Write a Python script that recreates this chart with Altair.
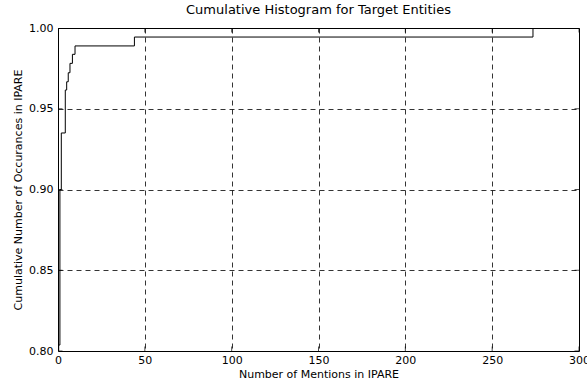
import altair as alt
import pandas as pd

# Step positions (number of mentions) and cumulative fraction reached there
mentions = [0.4, 0.4, 1.1, 1.9, 4.2, 5.0, 5.9, 6.9, 8.3, 9.8, 44.0, 273.5, 300.0]
cumulative = [0.70, 0.8037, 0.900, 0.935, 0.9616, 0.9667, 0.9723, 0.9781,
              0.9837, 0.9889, 0.9944, 1.0, 1.0]

x_ticks = [0, 50, 100, 150, 200, 250, 300]
y_ticks = [0.80, 0.85, 0.90, 0.95, 1.00]

df = pd.DataFrame({"m": mentions, "c": cumulative, "order": list(range(len(mentions)))})
xt = pd.DataFrame({"m": x_ticks})
yt = pd.DataFrame({"c": y_ticks})

FONT = "DejaVu Sans"
W, H = 521, 323

xscale = alt.Scale(domain=[0, 300], nice=False, zero=False)
yscale = alt.Scale(domain=[0.80, 1.00], nice=False, zero=False)

common_axis = dict(labelFontSize=11, titleFontSize=11, titleFontWeight="normal",
                   tickSize=0, domain=False, grid=True, gridColor="black",
                   gridDash=[5, 4], gridWidth=0.8, labelFont=FONT, titleFont=FONT,
                   labelColor="black", titleColor="black", labelFlush=False)

line = alt.Chart(df).mark_line(
    interpolate="step-after", color="black", strokeWidth=1, clip=True
).encode(
    x=alt.X("m:Q", scale=xscale,
            axis=alt.Axis(values=x_ticks, title="Number of Mentions in IPARE",
                          format="d", labelPadding=3, titlePadding=3, **common_axis)),
    y=alt.Y("c:Q", scale=yscale,
            axis=alt.Axis(values=y_ticks, title="Cumulative Number of Occurances in IPARE",
                          format=".2f", labelPadding=5, titlePadding=5, **common_axis)),
    order="order:Q",
)

tick_style = dict(color="black", clip=True, size=9, thickness=1)
xt_top = alt.Chart(xt).mark_tick(**tick_style).encode(x=alt.X("m:Q", scale=xscale), y=alt.value(0))
xt_bot = alt.Chart(xt).mark_tick(**tick_style).encode(x=alt.X("m:Q", scale=xscale), y=alt.value(H))
yt_left = alt.Chart(yt).mark_tick(orient="horizontal", **tick_style).encode(y=alt.Y("c:Q", scale=yscale), x=alt.value(0))
yt_right = alt.Chart(yt).mark_tick(orient="horizontal", **tick_style).encode(y=alt.Y("c:Q", scale=yscale), x=alt.value(W))

chart = alt.layer(line, xt_top, xt_bot, yt_left, yt_right).properties(
    width=W,
    height=H,
    title=alt.TitleParams("Cumulative Histogram for Target Entities", fontSize=13,
                          fontWeight="normal", font=FONT, color="black", offset=5),
    padding={"left": 58, "top": 28, "right": 8, "bottom": 30},
    autosize=alt.AutoSizeParams(type="none"),
    background="white",
).configure_view(stroke="black", strokeWidth=1)

chart.save("out.html", embed_options={"renderer": "svg", "actions": False})
